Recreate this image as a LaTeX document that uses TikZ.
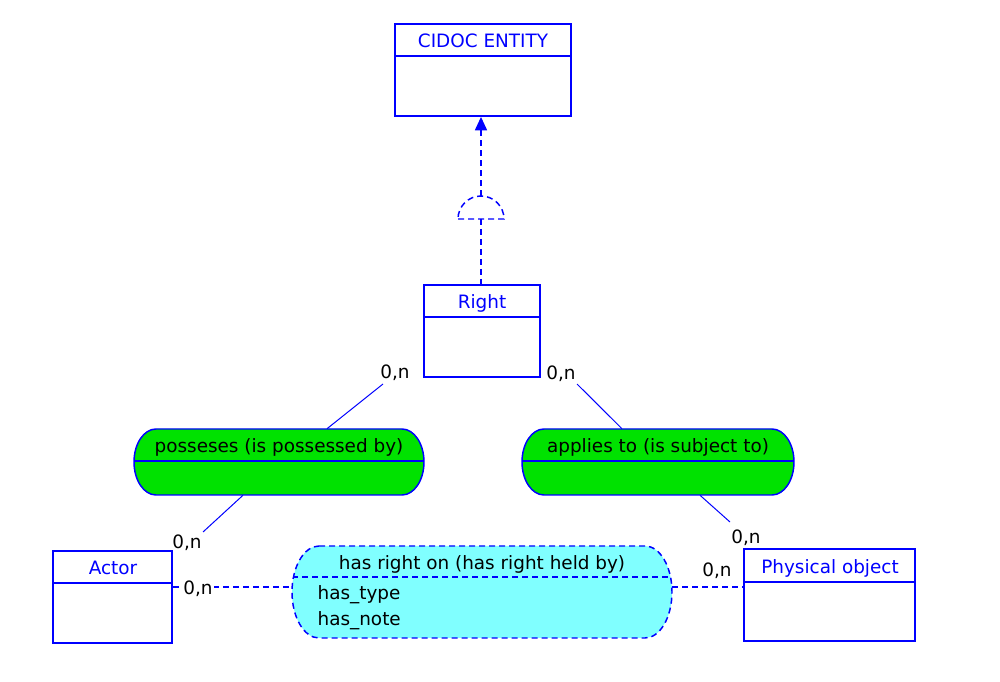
\documentclass[tikz,border=0pt]{standalone}
\usepackage{fontspec}
\setmainfont{DejaVu Sans}
\usetikzlibrary{arrows.meta,fit,calc}
\definecolor{eblue}{RGB}{0,0,255}
\definecolor{rgreen}{RGB}{0,226,0}
\definecolor{rcyan}{RGB}{128,255,255}
\newcommand\stadpath[5]{(#1+#5,#4) -- (#2-#5,#4) arc[start angle=90,end angle=-90,x radius=#5,y radius={(#4-#3)/2}] -- (#1+#5,#3) arc[start angle=270,end angle=90,x radius=#5,y radius={(#4-#3)/2}] -- cycle}
\tikzset{
  ent/.style={draw=eblue,line width=1.4pt,fill=white,inner sep=0pt},
  edivider/.style={draw=eblue,line width=1.4pt},
  etitle/.style={text=eblue,font=\fontsize{13.8}{16}\selectfont,inner sep=1pt},
  rtitle/.style={text=black,font=\fontsize{13.8}{16}\selectfont,inner sep=1pt},
  card/.style={text=black,font=\fontsize{13.8}{16}\selectfont,inner sep=1pt},
  anchorbox/.style={inner sep=0pt},
  stadline/.style={draw=eblue,line width=1.1pt},
  conn/.style={draw=eblue,line width=0.75pt},
  dconn/.style={draw=eblue,line width=1.1pt,dash pattern=on 4.5pt off 3pt},
}
\begin{document}
\begin{tikzpicture}[x=0.75pt,y=0.75pt]
\useasboundingbox (0,0) rectangle (1000,682);
\fill[white] (0,0) rectangle (1000,682);

% ---- entity boxes ----
\node[ent,fit={(395,566) (571,658)}] (cidoc) {};
\draw[edivider] (395,626) -- (571,626);
\node[etitle] (cidoct) at (483,641) {CIDOC ENTITY};

\node[ent,fit={(424,305) (540,397)}] (right) {};
\draw[edivider] (424,365) -- (540,365);
\node[etitle] (rightt) at (482,379) {Right};

\node[ent,fit={(53,39) (172,131)}] (actor) {};
\draw[edivider] (53,99) -- (172,99);
\node[etitle] (actort) at (113,114) {Actor};

\node[ent,fit={(744,41) (915,133)}] (phys) {};
\draw[edivider] (744,100) -- (915,100);
\node[etitle] (physt) at (830,114) {Physical object};

% ---- relationship: posseses ----
\node[anchorbox,fit={(134,187) (424,253)}] (pos) {};
\fill[rgreen] \stadpath{134}{424}{187}{253}{22};
\begin{scope}
  \clip \stadpath{134}{424}{187}{253}{22};
  \draw[stadline] (134,221) -- (424,221);
\end{scope}
\draw[stadline] \stadpath{134}{424}{187}{253}{22};
\node[rtitle] (post) at (279,235) {posseses (is possessed by)};

% ---- relationship: applies to ----
\node[anchorbox,fit={(522,187) (794,253)}] (app) {};
\fill[rgreen] \stadpath{522}{794}{187}{253}{22};
\begin{scope}
  \clip \stadpath{522}{794}{187}{253}{22};
  \draw[stadline] (522,221) -- (794,221);
\end{scope}
\draw[stadline] \stadpath{522}{794}{187}{253}{22};
\node[rtitle] (appt) at (658,235) {applies to (is subject to)};

% ---- relationship: has right on (dashed) ----
\node[anchorbox,fit={(292,44) (672,136)}] (hr) {};
\fill[rcyan] \stadpath{292}{672}{44}{136}{27};
\begin{scope}
  \clip \stadpath{292}{672}{44}{136}{27};
  \draw[dconn] (292,105) -- (672,105);
\end{scope}
\draw[dconn] \stadpath{292}{672}{44}{136}{27};
\node[rtitle] (hrt) at (482,118) {has right on (has right held by)};
\node[rtitle,anchor=west] (hrtype) at (316,87) {has\_type};
\node[rtitle,anchor=west] (hrnote) at (316,61) {has\_note};

% ---- inheritance ----
\coordinate (halftop) at (481,486);
\coordinate (halfbase) at (481,463);
\draw[dconn] (458,463) -- (504,463) arc[start angle=0,end angle=180,radius=23];
\draw[dconn,-{Triangle[width=9pt,length=10pt]}] (halftop) -- (halftop |- cidoc.south);
\draw[dconn] (halfbase) -- (halfbase |- right.north);

% ---- solid connectors ----
\coordinate (e1) at (383,298);
\coordinate (e2) at (203,150);
\coordinate (e3) at (577,298);
\coordinate (e4) at (730,160);
\draw[conn] ([xshift=36pt]pos.north) -- (e1);
\draw[conn] ([xshift=-27pt]pos.south) -- (e2);
\draw[conn] ([xshift=-27pt]app.north) -- (e3);
\draw[conn] ([xshift=31.5pt]app.south) -- (e4);
\node[card] (c1) at (395,309) {0,n};
\node[card] (c2) at (187,139) {0,n};
\node[card] (c3) at (561,308) {0,n};
\node[card] (c4) at (746,144) {0,n};

% ---- dashed connectors ----
\draw[dconn] ([yshift=7.5pt]actor.east) -- ([yshift=3.75pt]hr.west);
\draw[dconn] ([yshift=3.75pt]hr.east) -- ([yshift=6pt]phys.west);
\node[card,fill=white] (c5) at (198,93) {0,n};
\node[card] (c6) at (717,111) {0,n};
\end{tikzpicture}
\end{document}
